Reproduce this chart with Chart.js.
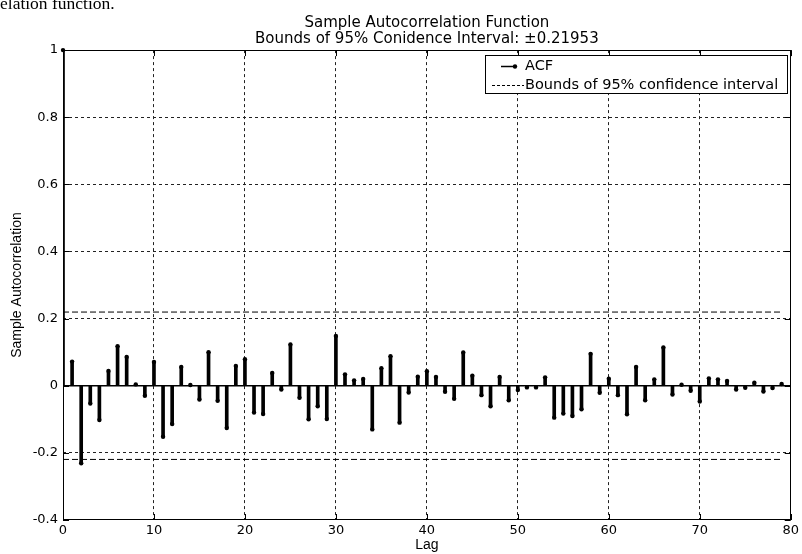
<!DOCTYPE html>
<html><head><meta charset="utf-8">
<script src="https://cdn.jsdelivr.net/npm/chart.js@4.4.1/dist/chart.umd.min.js"></script>
<style>
html,body{margin:0;padding:0;background:#fff;}
#wrap{position:relative;width:802px;height:554px;overflow:hidden;background:#fff;}
#cut{position:absolute;left:0;top:-5px;font-family:"Liberation Serif","Times New Roman",serif;font-size:17.5px;line-height:1;color:#000;white-space:nowrap;}
canvas{position:absolute;left:0;top:0;}
</style></head><body>
<div id="wrap"><canvas id="c" width="802" height="554"></canvas><div id="cut">elation function.</div></div>
<script>
const lags = [0,1,2,3,4,5,6,7,8,9,10,11,12,13,14,15,16,17,18,19,20,21,22,23,24,25,26,27,28,29,30,31,32,33,34,35,36,37,38,39,40,41,42,43,44,45,46,47,48,49,50,51,52,53,54,55,56,57,58,59,60,61,62,63,64,65,66,67,68,69,70,71,72,73,74,75,76,77,78,79];
const acf = [1,0.072,-0.231,-0.053,-0.102,0.044,0.118,0.086,0.004,-0.030,
  0.071,-0.152,-0.114,0.056,0.002,-0.041,0.100,-0.045,-0.126,0.059,
  0.079,-0.080,-0.084,0.038,-0.011,0.123,-0.036,-0.100,-0.061,-0.099,
  0.148,0.034,0.016,0.020,-0.130,0.052,0.088,-0.110,-0.020,0.027,
  0.043,0.026,-0.018,-0.039,0.099,0.030,-0.028,-0.061,0.026,-0.043,
  -0.013,-0.005,-0.005,0.025,-0.095,-0.083,-0.090,-0.070,0.095,-0.021,
  0.021,-0.028,-0.085,0.056,-0.043,0.019,0.114,-0.026,0.003,-0.015,
  -0.047,0.022,0.019,0.014,-0.011,-0.006,0.009,-0.017,-0.007,0.005];
const bound = 0.21953;
const boundLags = [0, 79];
const baseLags = [0, 80];
const xTickLabels = ['0','10','20','30','40','50','60','70','80'];
const yTickLabels = ['-0.4','-0.2','0','0.2','0.4','0.6','0.8','1'];
const titleLines = ['Sample Autocorrelation Function','Bounds of 95% Conidence Interval: \u00B10.21953'];
const seriesNames = ['ACF','Bounds of 95% confidence interval'];
const xTitle = 'Lag';
const yTitle = 'Sample Autocorrelation';

Chart.defaults.font.family = "'DejaVu Sans', sans-serif";
Chart.defaults.color = '#000';

const stemPts = lags.map((l,i)=>({x:l,y:acf[i]}));

const boxTicks = {
  id:'boxTicks',
  afterDatasetsDraw(chart){
    const {ctx, chartArea:ca, scales} = chart;
    ctx.save();
    ctx.strokeStyle='#000'; ctx.lineWidth=1; ctx.setLineDash([]);
    ctx.strokeRect(Math.round(ca.left)+0.5, Math.round(ca.top)+0.5, Math.round(ca.right-ca.left)-1, Math.round(ca.bottom-ca.top)-1);
    ctx.beginPath();
    scales.x.ticks.forEach(t=>{
      const px=Math.round(scales.x.getPixelForValue(t.value))+0.5;
      ctx.moveTo(px,ca.bottom); ctx.lineTo(px,ca.bottom-6);
      ctx.moveTo(px,ca.top); ctx.lineTo(px,ca.top+6);
    });
    scales.y.ticks.forEach(t=>{
      const py=Math.round(scales.y.getPixelForValue(t.value))+0.5;
      ctx.moveTo(ca.left,py); ctx.lineTo(ca.left+6,py);
      ctx.moveTo(ca.right,py); ctx.lineTo(ca.right-6,py);
    });
    ctx.stroke();
    ctx.restore();
  }
};

const legendBox = {
  id:'legendBox',
  afterDraw(chart){
    const {ctx, chartArea:ca} = chart;
    const w=302,h=38; const l=Math.round(ca.right-w-4), t=Math.round(ca.top+5);
    ctx.save();
    ctx.fillStyle='#fff'; ctx.fillRect(l,t,w,h);
    ctx.strokeStyle='#000'; ctx.lineWidth=1; ctx.setLineDash([]);
    ctx.strokeRect(l+0.5,t+0.5,w,h);
    const y1=t+11.5, y2=t+30.5;
    ctx.lineWidth=1.5;
    ctx.beginPath(); ctx.moveTo(l+16,y1); ctx.lineTo(l+30,y1); ctx.stroke();
    ctx.fillStyle='#000';
    ctx.beginPath(); ctx.arc(l+30,y1,2.2,0,Math.PI*2); ctx.fill();
    ctx.lineWidth=1; ctx.setLineDash([3,2]);
    ctx.beginPath(); ctx.moveTo(l+7,y2); ctx.lineTo(l+39,y2); ctx.stroke();
    ctx.setLineDash([]);
    ctx.font="14.5px 'DejaVu Sans', sans-serif";
    ctx.textBaseline='middle'; ctx.textAlign='left';
    ctx.fillText(chart.data.datasets[0].label, l+40, y1);
    ctx.fillText(chart.data.datasets[2].label, l+40, y2);
    ctx.restore();
  }
};

new Chart(document.getElementById('c'), {
  type:'bar',
  data:{
    datasets:[
      {type:'bar', label:seriesNames[0], data:stemPts, backgroundColor:'#000', borderWidth:0, barThickness:3, order:2},
      {type:'line', label:'markers', data:stemPts, showLine:false, pointRadius:2.2, pointBackgroundColor:'#000', pointBorderWidth:0, clip:false, order:1},
      {type:'line', label:seriesNames[1], data:boundLags.map(x=>({x:x,y:bound})), borderColor:'#000', borderWidth:1, borderDash:[6,3], pointRadius:0, order:3},
      {type:'line', label:'lower', data:boundLags.map(x=>({x:x,y:-bound})), borderColor:'#000', borderWidth:1, borderDash:[6,3], pointRadius:0, order:3},
      {type:'line', label:'baseline', data:baseLags.map(x=>({x:x,y:0})), borderColor:'#000', borderWidth:1.5, pointRadius:0, order:3}
    ]
  },
  options:{
    responsive:false, animation:false,
    layout:{padding:{top:0,right:9,bottom:0,left:0}},
    plugins:{
      legend:{display:false}, tooltip:{enabled:false},
      title:{display:true, text:titleLines, fullSize:false, font:{size:15, lineHeight:1.07, weight:'normal', family:"'DejaVu Sans', sans-serif"}, padding:{top:15, bottom:3}, color:'#000'}
    },
    scales:{
      x:{type:'linear', min:0, max:80, offset:false,
        ticks:{stepSize:10, padding:3, font:{size:13}, maxRotation:0,
          callback:(v)=>xTickLabels.find(s=>Math.abs(parseFloat(s)-v)<1e-6)},
        grid:{offset:false, drawTicks:false, lineWidth:1, color:c=>(c.tick && c.tick.value>0 && c.tick.value<80)?'#222':'rgba(0,0,0,0)'},
        border:{display:false, dash:[3,3]},
        title:{display:true, text:xTitle, font:{size:14, family:"'Liberation Sans', Arial, sans-serif"}, padding:{top:0,bottom:0}},
        afterFit:(s)=>{s.height=34;}
      },
      y:{type:'linear', min:-0.4, max:1,
        ticks:{stepSize:0.2, padding:5, font:{size:13},
          callback:(v)=>yTickLabels.find(s=>Math.abs(parseFloat(s)-v)<1e-6)},
        grid:{drawTicks:false, lineWidth:1, color:c=>(c.tick && c.tick.value>-0.39 && c.tick.value<0.99 && Math.abs(c.tick.value)>1e-6)?'#222':'rgba(0,0,0,0)'},
        border:{display:false, dash:[3,3]},
        title:{display:true, text:yTitle, font:{size:14, family:"'Liberation Sans', Arial, sans-serif"}, padding:{top:9,bottom:0}},
        afterFit:(s)=>{s.width=63;}
      }
    }
  },
  plugins:[boxTicks, legendBox]
});
</script>
</body></html>
